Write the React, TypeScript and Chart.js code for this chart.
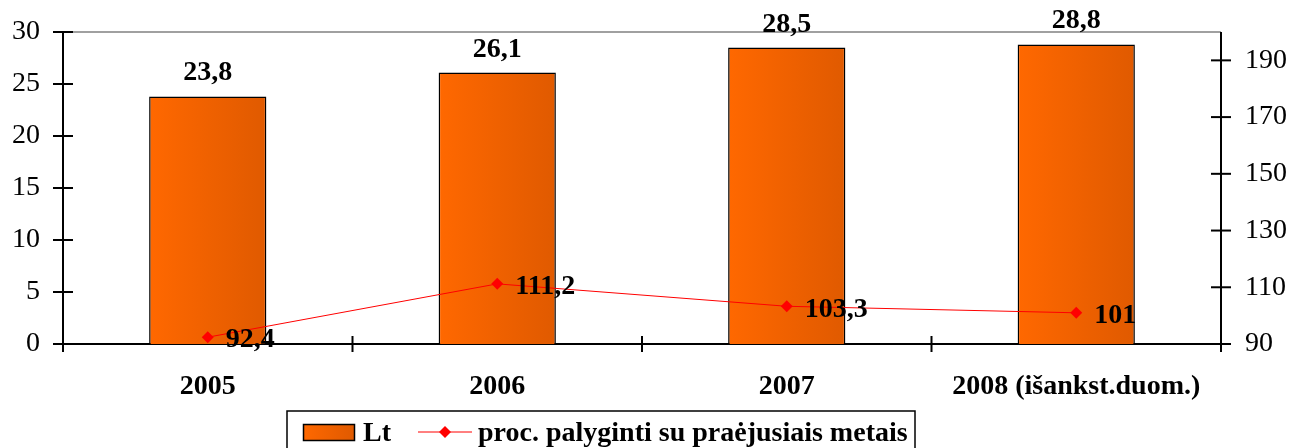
import React, { useEffect, useRef } from 'react';
import { Chart, registerables } from 'chart.js';
Chart.register(...registerables);

const categories = ['2005', '2006', '2007', '2008 (išankst.duom.)'];
const ltValues = [23.8, 26.1, 28.5, 28.8];
const pctValues = [92.4, 111.2, 103.3, 101];
const leftTicks = [0, 5, 10, 15, 20, 25, 30];
const rightTicks = [90, 110, 130, 150, 170, 190];
const seriesLabels = ['Lt', 'proc. palyginti su praėjusiais metais'];

const FONT = '"Liberation Serif", "Times New Roman", serif';
const FS = 28;
const BAR_PCT = 0.405;
const fmt = (v: number) => String(v).replace('.', ',');

function makeGrad(ctx: CanvasRenderingContext2D, x0: number, x1: number) {
  const g = ctx.createLinearGradient(x0, 0, x1, 0);
  g.addColorStop(0, '#FF6800');
  g.addColorStop(1, '#E05A00');
  return g;
}

const zeroPad = (s: any) => {
  s.paddingTop = 0;
  s.paddingBottom = 0;
  s.paddingLeft = 0;
  s.paddingRight = 0;
};

const decorPlugin = {
  id: 'decor',
  beforeDatasetsDraw(chart: any) {
    const { ctx, chartArea: a, scales } = chart;
    ctx.save();
    ctx.strokeStyle = '#808080';
    ctx.lineWidth = 1.5;
    ctx.beginPath();
    ctx.moveTo(a.left, a.top);
    ctx.lineTo(a.right, a.top);
    ctx.stroke();
    ctx.strokeStyle = '#000';
    ctx.lineWidth = 2;
    ctx.beginPath();
    ctx.moveTo(a.left, a.top);
    ctx.lineTo(a.left, a.bottom + 8);
    ctx.stroke();
    ctx.beginPath();
    ctx.moveTo(a.right, a.top);
    ctx.lineTo(a.right, a.bottom + 8);
    ctx.stroke();
    ctx.beginPath();
    ctx.moveTo(a.left, a.bottom);
    ctx.lineTo(a.right, a.bottom);
    ctx.stroke();
    for (const t of scales.y.ticks) {
      const y = scales.y.getPixelForValue(t.value);
      ctx.beginPath();
      ctx.moveTo(a.left - 10, y);
      ctx.lineTo(a.left + 10, y);
      ctx.stroke();
    }
    for (const t of scales.y1.ticks) {
      const y = scales.y1.getPixelForValue(t.value);
      ctx.beginPath();
      ctx.moveTo(a.right - 10, y);
      ctx.lineTo(a.right + 10, y);
      ctx.stroke();
    }
    const n = categories.length;
    for (let i = 1; i < n; i++) {
      const x = (scales.x.getPixelForValue(i - 1) + scales.x.getPixelForValue(i)) / 2;
      ctx.beginPath();
      ctx.moveTo(x, a.bottom - 8);
      ctx.lineTo(x, a.bottom + 8);
      ctx.stroke();
    }
    ctx.restore();
  },
  afterDatasetsDraw(chart: any) {
    const { ctx } = chart;
    ctx.save();
    ctx.fillStyle = '#000';
    ctx.font = `bold ${FS}px ${FONT}`;
    const barMeta = chart.getDatasetMeta(0);
    ctx.textAlign = 'center';
    ctx.textBaseline = 'alphabetic';
    barMeta.data.forEach((bar: any, i: number) => {
      ctx.fillText(fmt(ltValues[i]), bar.x, bar.y - 16);
    });
    const lineMeta = chart.getDatasetMeta(1);
    ctx.textAlign = 'left';
    ctx.textBaseline = 'middle';
    lineMeta.data.forEach((pt: any, i: number) => {
      ctx.fillText(fmt(pctValues[i]), pt.x + 18, pt.y + 3);
    });
    ctx.restore();
  },
  afterDraw(chart: any) {
    const { ctx } = chart;
    ctx.save();
    const bx = 287, by = 411, bw = 628, bh = 40;
    ctx.fillStyle = '#fff';
    ctx.fillRect(bx, by, bw, bh);
    ctx.strokeStyle = '#000';
    ctx.lineWidth = 1.5;
    ctx.strokeRect(bx, by, bw, bh);
    const cy = 432;
    ctx.fillStyle = makeGrad(ctx, 303, 354);
    ctx.fillRect(303, 424, 51, 16);
    ctx.lineWidth = 1.5;
    ctx.strokeRect(303.5, 424.5, 51, 16);
    ctx.fillStyle = '#000';
    ctx.font = `bold ${FS}px ${FONT}`;
    ctx.textAlign = 'left';
    ctx.textBaseline = 'middle';
    ctx.fillText(chart.data.datasets[0].label, 363, cy + 2);
    ctx.strokeStyle = '#FF0000';
    ctx.lineWidth = 1;
    ctx.beginPath();
    ctx.moveTo(418, cy);
    ctx.lineTo(472, cy);
    ctx.stroke();
    ctx.fillStyle = '#FF0000';
    ctx.beginPath();
    ctx.moveTo(445, cy - 6);
    ctx.lineTo(451, cy);
    ctx.lineTo(445, cy + 6);
    ctx.lineTo(439, cy);
    ctx.closePath();
    ctx.fill();
    ctx.fillStyle = '#000';
    ctx.fillText(chart.data.datasets[1].label, 478, cy + 2);
    ctx.restore();
  },
};

export default function App() {
  const ref = useRef<HTMLCanvasElement | null>(null);
  useEffect(() => {
    document.body.style.margin = '0';
    const canvas = ref.current!;
    const chart = new Chart(canvas, {
      type: 'bar',
      data: {
        labels: categories,
        datasets: [
          {
            type: 'bar',
            label: seriesLabels[0],
            data: ltValues,
            yAxisID: 'y',
            backgroundColor: (c: any) => {
              const ch = c.chart;
              const xs = ch.scales.x;
              if (!xs || !ch.chartArea) return '#FF6600';
              const x = xs.getPixelForValue(c.dataIndex);
              const w = (xs.width / categories.length) * BAR_PCT;
              return makeGrad(ch.ctx, x - w / 2, x + w / 2);
            },
            borderColor: '#000',
            borderWidth: 1.5,
            barPercentage: BAR_PCT,
            categoryPercentage: 1,
            order: 2,
          } as any,
          {
            type: 'line',
            label: seriesLabels[1],
            data: pctValues,
            yAxisID: 'y1',
            borderColor: '#FF0000',
            borderWidth: 1,
            pointStyle: 'rectRot',
            pointRadius: 6,
            pointBackgroundColor: '#FF0000',
            pointBorderColor: '#FF0000',
            pointBorderWidth: 0,
            tension: 0,
            order: 1,
          } as any,
        ],
      },
      options: {
        responsive: false,
        animation: false,
        devicePixelRatio: 1,
        layout: { padding: { top: 32, left: 0, right: 0, bottom: 0 } },
        plugins: { legend: { display: false }, tooltip: { enabled: false } },
        scales: {
          x: {
            grid: { display: false, drawTicks: false },
            border: { display: false },
            ticks: { color: '#000', font: { family: FONT, size: FS, weight: 'bold' }, padding: 26, maxRotation: 0 },
            afterFit: (s: any) => { s.height = 104; zeroPad(s); },
          },
          y: {
            position: 'left',
            min: 0,
            max: 30,
            afterBuildTicks: (s: any) => { s.ticks = leftTicks.map((v) => ({ value: v })); },
            grid: { display: false, drawTicks: false },
            border: { display: false },
            ticks: { color: '#000', font: { family: FONT, size: FS }, padding: 23 },
            afterFit: (s: any) => { s.width = 63; zeroPad(s); },
          },
          y1: {
            position: 'right',
            min: 90,
            max: 200,
            afterBuildTicks: (s: any) => { s.ticks = rightTicks.map((v) => ({ value: v })); },
            grid: { display: false, drawTicks: false },
            border: { display: false },
            ticks: { color: '#000', font: { family: FONT, size: FS }, padding: 24 },
            afterFit: (s: any) => { s.width = 86; zeroPad(s); },
          },
        },
      } as any,
      plugins: [decorPlugin],
    });
    return () => chart.destroy();
  }, []);
  return <canvas ref={ref} width={1307} height={448} style={{ display: 'block' }} />;
}
